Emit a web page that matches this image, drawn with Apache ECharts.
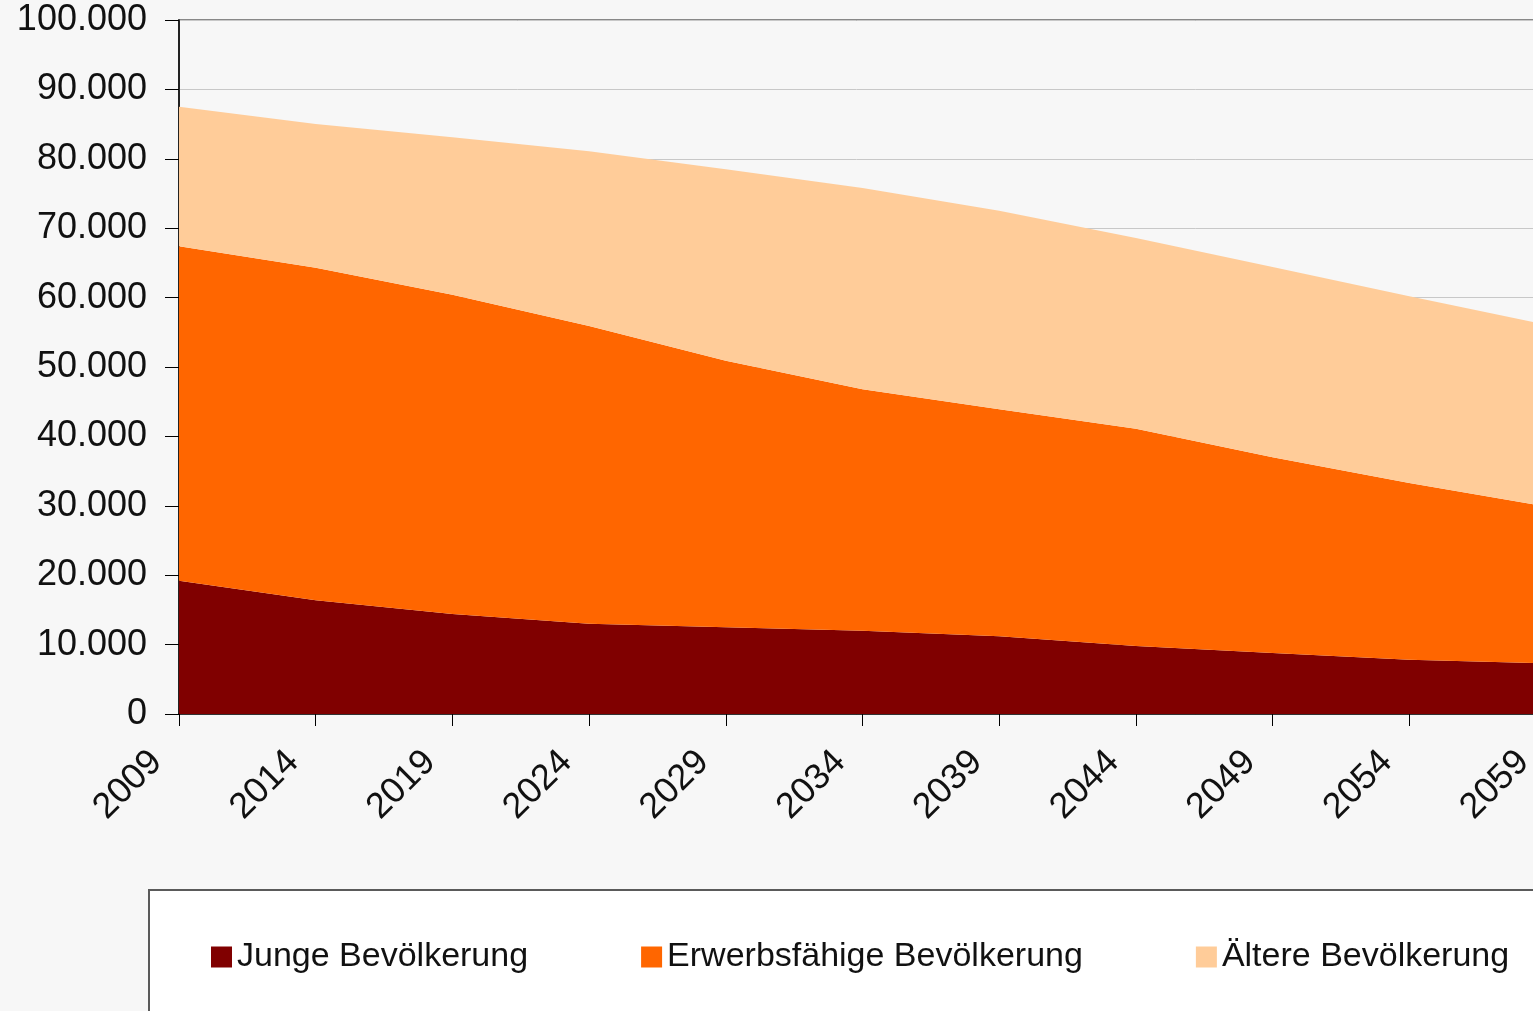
<!DOCTYPE html>
<html>
<head>
<meta charset="utf-8">
<script src="https://cdn.jsdelivr.net/npm/echarts@6/dist/echarts.min.js"></script>
<style>
  html, body { margin: 0; padding: 0; background: #f7f7f7; }
  #chart { width: 1533px; height: 1011px; }
</style>
</head>
<body>
<div id="chart"></div>
<script>
const years = ['2009', '2014', '2019', '2024', '2029', '2034', '2039', '2044', '2049', '2054', '2059'];
const junge = [19200, 16400, 14400, 13000, 12500, 12000, 11200, 9800, 8800, 7800, 7300];
const erwerbs = [48200, 47900, 46000, 42900, 38400, 34800, 32700, 31300, 28200, 25500, 22600];
const aeltere = [20100, 20700, 22700, 25200, 27600, 29000, 28600, 27500, 27400, 26900, 26200];
const names = ['Junge Bevölkerung', 'Erwerbsfähige Bevölkerung', 'Ältere Bevölkerung'];
const colors = ['#800000', '#ff6600', '#ffcc99'];

const font = '"Liberation Sans", Arial, sans-serif';
const fmt = v => String(v).replace(/\B(?=(\d{3})+(?!\d))/g, '.');

function areaSeries(name, data, color) {
  return {
    name: name, type: 'line', stack: 'total', data: data,
    symbol: 'none', lineStyle: { width: 0 },
    areaStyle: { color: color, opacity: 1 }, itemStyle: { color: color }
  };
}

const chart = echarts.init(document.getElementById('chart'));
chart.setOption({
  backgroundColor: '#f7f7f7',
  animation: false,
  textStyle: { fontFamily: font },
  grid: {
    left: 179, top: 20, right: -13, bottom: 297,
    outerBoundsMode: 'none', containLabel: false,
    show: true, borderColor: '#888', borderWidth: 2, backgroundColor: 'transparent'
  },
  legend: {
    data: names, left: 149, top: 890, width: 1450,
    backgroundColor: '#ffffff', borderColor: '#5a5a5a', borderWidth: 2,
    padding: [50, 120, 60, 62],
    itemGap: 113, itemWidth: 21, itemHeight: 21, icon: 'rect',
    textStyle: { fontSize: 34, color: '#111', fontFamily: font }
  },
  xAxis: {
    type: 'category', data: years, boundaryGap: false,
    axisLine: { lineStyle: { color: '#000', width: 1.5 } },
    axisTick: { show: true, length: 12, lineStyle: { color: '#000' } },
    axisLabel: { rotate: 45, fontSize: 36, color: '#111', margin: 20, padding: [0, 32, 0, 0] },
    splitLine: { show: false }
  },
  yAxis: {
    type: 'value', min: 0, max: 100000, interval: 10000,
    axisLine: { show: true, lineStyle: { color: '#000', width: 1.5 } },
    axisTick: { show: true, length: 14, lineStyle: { color: '#000' } },
    axisLabel: { fontSize: 36, color: '#111', margin: 32, formatter: fmt },
    splitLine: { lineStyle: { color: '#c8c8c8', width: 1 } }
  },
  series: [
    areaSeries(names[0], junge, colors[0]),
    areaSeries(names[1], erwerbs, colors[1]),
    areaSeries(names[2], aeltere, colors[2])
  ]
});
</script>
</body>
</html>
